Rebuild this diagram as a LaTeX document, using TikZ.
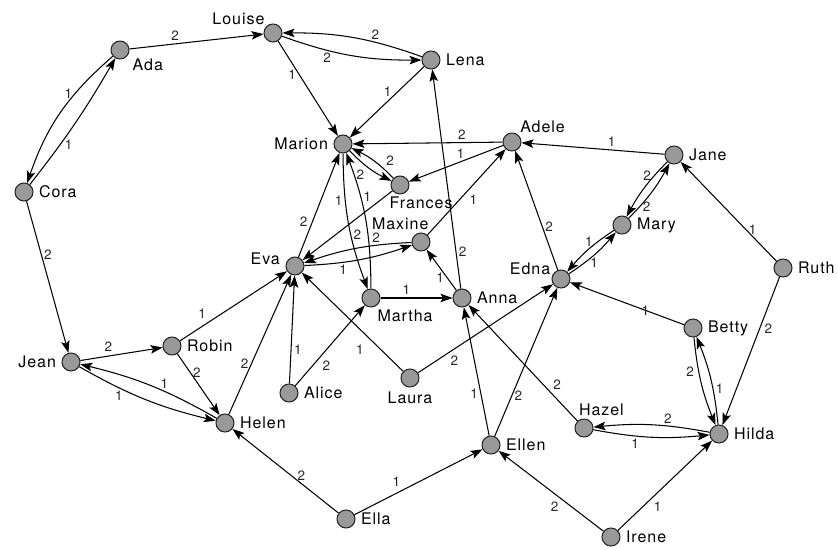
\documentclass[tikz,border=0pt]{standalone}
\usepackage{fontspec}
\setmainfont{TeX Gyre Heros}[LetterSpace=6]
\usepackage{tikz}
\usetikzlibrary{arrows.meta}
\tikzset{v/.style={circle, draw=black!85, fill=black!40, minimum size=18pt, inner sep=0pt}}
\tikzset{l/.style={font=\fontsize{16}{17}\selectfont, inner sep=2pt}}
\tikzset{m/.style={font=\fontsize{13.5}{14}\selectfont, inner sep=2.5pt, text=black!85}}
\tikzset{lc/.style={l, anchor=center}}
\begin{document}
\begin{tikzpicture}[x=1pt, y=-1pt, line width=1.05pt, label distance=3pt,
    >={Stealth[length=12pt, width=8.5pt, inset=2.5pt]}]
        \useasboundingbox (0,0) rectangle (838,549);
        % people
        \node [v, label={[lc, label distance=22pt]-28:Ada}] (Ada) at (120,50) {};
        \node [v, label={[lc, label distance=28pt]157:Louise}] (Louise) at (273,33) {};
        \node [v, label={[l]right:Lena}] (Lena) at (431,60) {};
        \node [v, label={[l]right:Cora}] (Cora) at (24,192) {};
        \node [v, label={[l]left:Marion}] (Marion) at (343,144) {};
        \node [v, label={[lc, label distance=24.5pt]26:Adele}] (Adele) at (512,142) {};
        \node [v, label={[lc, label distance=18pt]-40:Frances}] (Frances) at (400,185) {};
        \node [v, label={[l]right:Jane}] (Jane) at (674,155) {};
        \node [v, label={[lc, label distance=18pt]139:Maxine}] (Maxine) at (421,242) {};
        \node [v, label={[l]right:Mary}] (Mary) at (622,225) {};
        \node [v, label={[lc, label distance=21pt]167:Eva}] (Eva) at (295,266) {};
        \node [v, label={[lc, label distance=23pt]162:Edna}] (Edna) at (561,279) {};
        \node [v, label={[lc, label distance=29pt]-28:Martha}] (Martha) at (371,298) {};
        \node [v, label={[l]right:Anna}] (Anna) at (462,298) {};
        \node [v, label={[l]right:Ruth}] (Ruth) at (783,268) {};
        \node [v, label={[l]left:Jean}] (Jean) at (71,362) {};
        \node [v, label={[l]right:Robin}] (Robin) at (172,346) {};
        \node [v, label={[l]right:Betty}] (Betty) at (693,328) {};
        \node [v, label={[l]right:Alice}] (Alice) at (289,393) {};
        \node [v, label={[lc, label distance=10pt]below:Laura}] (Laura) at (410,378) {};
        \node [v, label={[l]right:Helen}] (Helen) at (225,423) {};
        \node [v, label={[lc, label distance=16pt]47:Hazel}] (Hazel) at (584,428) {};
        \node [v, label={[l]right:Hilda}] (Hilda) at (719,434) {};
        \node [v, label={[l]right:Ellen}] (Ellen) at (491,445) {};
        \node [v, label={[l]right:Ella}] (Ella) at (346,519) {};
        \node [v, label={[l]right:Irene}] (Irene) at (611,537) {};
        % choices
        \draw [->] (Ada) to node [m, above, pos=.34] {2} (Louise);
        \draw [->] (Ada) to [bend right=15] node [m, left, pos=.33] {1} (Cora);
        \draw [->] (Cora) to [bend right=4] node [m, right=2pt, pos=.31] {1} (Ada);
        \draw [->] (Louise) to [bend right=10] node [m, below, pos=.32] {2} (Lena);
        \draw [->] (Lena) to [bend right=10] node [m, above, pos=.33] {2} (Louise);
        \draw [->] (Louise) to node [m, left, pos=.35] {1} (Marion);
        \draw [->] (Lena) to node [m, left=3pt, pos=.36] {1} (Marion);
        \draw [->] (Cora) to node [m, right, pos=.35] {2} (Jean);
        \draw [->] (Adele) to node [m, above, pos=.27] {2} (Marion);
        \draw [->] (Adele) to node [m, above, pos=.45] {1} (Frances);
        \draw [->] (Frances) to [bend right=10] node [m, above right, pos=.25] {2} (Marion);
        \draw [->] (Marion) to [bend right=10] node [m, below left, pos=.45] {2} (Frances);
        \draw [->] (Jane) to node [m, above, pos=.37] {1} (Adele);
        \draw [->] (Jane) to [bend right=8] node [m, left, pos=.27] {2} (Mary);
        \draw [->] (Mary) to [bend right=8] node [m, right, pos=.22] {2} (Jane);
        \draw [->] (Ruth) to node [m, right, pos=.32] {1} (Jane);
        \draw [->] (Ruth) to node [m, right=2pt, pos=.35] {2} (Hilda);
        \draw [->] (Mary) to [bend right=8] node [m, above, pos=.5] {1} (Edna);
        \draw [->] (Edna) to [bend right=8] node [m, below, pos=.5] {1} (Mary);
        \draw [->] (Edna) to node [m, right, pos=.36] {2} (Adele);
        \draw [->] (Betty) to node [m, pos=.34] {1} (Edna);
        \draw [->] (Betty) to [bend right=8] node [m, left=2pt, pos=.37] {2} (Hilda);
        \draw [->] (Hilda) to [bend right=8] node [m, right, pos=.39] {1} (Betty);
        \draw [->] (Hilda) to [bend right=8] node [m, above, pos=.35] {2} (Hazel);
        \draw [->] (Hazel) to [bend right=8] node [m, below, pos=.35] {1} (Hilda);
        \draw [->] (Hazel) to node [m, above right, pos=.25] {2} (Anna);
        \draw [->] (Irene) to node [m, below right, pos=.35] {1} (Hilda);
        \draw [->] (Irene) to node [m, below left, pos=.4] {2} (Ellen);
        \draw [->] (Ella) to node [m, above left, pos=.38] {1} (Ellen);
        \draw [->] (Ella) to node [m, above, pos=.35] {2} (Helen);
        \draw [->] (Ellen) to node [m, left, pos=.33] {1} (Anna);
        \draw [->] (Ellen) to node [m, right, pos=.27] {2} (Edna);
        \draw [->] (Laura) to node [m, below=4pt, pos=.27] {2} (Edna);
        \draw [->] (Laura) to node [m, below left=3pt, pos=.33] {1} (Eva);
        \draw [->] (Alice) to node [m, right, pos=.31] {1} (Eva);
        \draw [->] (Alice) to node [m, below right, pos=.35] {2} (Martha);
        \draw [->] (Helen) to node [m, left, pos=.36] {2} (Eva);
        \draw [->] (Robin) to node [m, above left, pos=.27] {1} (Eva);
        \draw [->] (Robin) to node [m, right, pos=.3] {2} (Helen);
        \draw [->] (Jean) to node [m, above=2pt, pos=.34] {2} (Robin);
        \draw [->] (Helen) to [bend right=8] node [m, above, pos=.39] {1} (Jean);
        \draw [->] (Jean) to [bend right=8] node [m, below, pos=.29] {1} (Helen);
        \draw [->] (Eva) to node [m, left=2pt, pos=.34] {2} (Marion);
        \draw [->] (Marion) to [bend right=10] node [m, left, pos=.33] {1} (Martha);
        \draw [->] (Martha) to [bend right=10] node [m, right, pos=.68] {1} (Marion);
        \draw [->] (Frances) to node [m, below=9pt, pos=.39] {2} (Eva);
        \draw [->] (Maxine) to [bend right=8] node [m, above, pos=.31] {2} (Eva);
        \draw [->] (Eva) to [bend right=8] node [m, below, pos=.34] {1} (Maxine);
        \draw [->] (Maxine) to node [m, below right, pos=.5] {1} (Adele);
        \draw [->] (Anna) to node [m, right, pos=.17] {2} (Lena);
        \draw [->] (Anna) to node [m, left, pos=.32] {1} (Maxine);
        \draw [->] (Martha) to node [m, above, pos=.36] {1} (Anna);
\end{tikzpicture}
\end{document}
